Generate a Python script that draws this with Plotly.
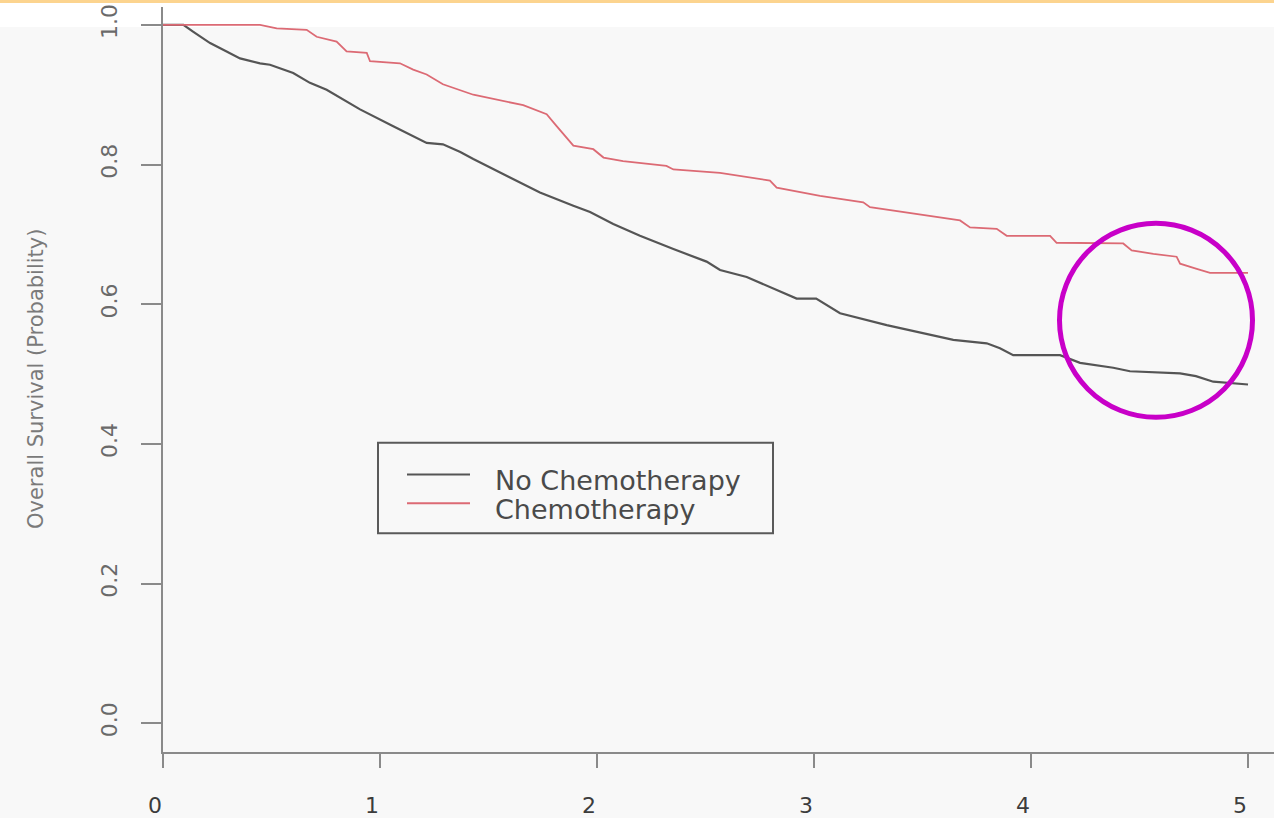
import plotly.graph_objects as go

# ---- data (years, survival probability) ----
t_nochemo = [0, 0.094, 0.14, 0.217, 0.293, 0.355, 0.447, 0.493, 0.60, 0.677, 0.754, 0.908, 1.061, 1.138,
             1.215, 1.29, 1.37, 1.43, 1.584, 1.737, 1.891, 1.968, 2.075, 2.198, 2.352, 2.505, 2.567, 2.69,
             2.92, 3.01, 3.12, 3.335, 3.642, 3.796, 3.857, 3.918, 4.134, 4.226, 4.379, 4.456, 4.687, 4.76,
             4.84, 5.0]
s_nochemo = [1.0, 1.0, 0.990, 0.974, 0.962, 0.952, 0.945, 0.943, 0.931, 0.917, 0.907, 0.879, 0.855, 0.843,
             0.831, 0.829, 0.818, 0.808, 0.784, 0.760, 0.741, 0.732, 0.715, 0.698, 0.679, 0.661, 0.649, 0.639,
             0.608, 0.608, 0.587, 0.570, 0.549, 0.544, 0.537, 0.527, 0.527, 0.516, 0.509, 0.504, 0.501, 0.497,
             0.489, 0.485]

t_chemo = [0, 0.447, 0.524, 0.662, 0.708, 0.80, 0.846, 0.939, 0.954, 1.092, 1.153, 1.215, 1.29, 1.369,
           1.43, 1.66, 1.768, 1.814, 1.891, 1.983, 2.03, 2.12, 2.32, 2.352, 2.567, 2.797, 2.828, 3.028,
           3.227, 3.258, 3.488, 3.673, 3.719, 3.842, 3.888, 4.088, 4.118, 4.425, 4.464, 4.564, 4.671, 4.687,
           4.76, 4.825, 5.0]
s_chemo = [1.0, 1.0, 0.995, 0.993, 0.983, 0.976, 0.962, 0.960, 0.948, 0.945, 0.936, 0.929, 0.915, 0.907,
           0.900, 0.885, 0.872, 0.855, 0.827, 0.822, 0.810, 0.805, 0.798, 0.793, 0.788, 0.777, 0.767, 0.755,
           0.746, 0.739, 0.729, 0.720, 0.710, 0.708, 0.698, 0.698, 0.688, 0.687, 0.677, 0.672, 0.668, 0.658,
           0.651, 0.645, 0.645]

series_names = ["No Chemotherapy", "Chemotherapy"]
x_ticks = [0, 1, 2, 3, 4, 5]
y_ticks = [0.0, 0.2, 0.4, 0.6, 0.8, 1.0]
y_tick_labels = ["0.0", "0.2", "0.4", "0.6", "0.8", "1.0"]
y_title = "Overall Survival (Probability)"

# ---- layout geometry (pixels) ----
W, H = 1274, 818
L, R, T, B = 163, 0, 7, 62
PW, PH = W - L - R, H - T - B
FONT = "DejaVu Sans"
BLACK = "#555555"
RED = "#dc6a74"


def px(xp):
    return (xp - L) / PW


def py(yp):
    return (H - B - yp) / PH


fig = go.Figure()
fig.add_trace(go.Scatter(x=t_nochemo, y=s_nochemo, mode="lines", line=dict(color=BLACK, width=2.2),
                         name=series_names[0], showlegend=False))
fig.add_trace(go.Scatter(x=t_chemo, y=s_chemo, mode="lines", line=dict(color=RED, width=1.8),
                         name=series_names[1], showlegend=False))

shapes = [
    # white top band and orange top rule
    dict(type="rect", xref="paper", yref="paper", x0=px(0), x1=px(W), y0=py(27), y1=py(3),
         fillcolor="white", line=dict(width=0), layer="below"),
    dict(type="rect", xref="paper", yref="paper", x0=px(0), x1=px(W), y0=py(3), y1=py(0),
         fillcolor="#fcd48f", line=dict(width=0), layer="below"),
    # y axis extension below x axis
    dict(type="line", xref="paper", yref="paper", x0=0, x1=0, y0=py(756), y1=py(770),
         line=dict(color="#8a8a8a", width=2)),
    # legend box
    dict(type="rect", xref="paper", yref="paper", x0=px(378), x1=px(773), y0=py(536), y1=py(445),
         line=dict(color="#5a5a5a", width=2), fillcolor="rgba(0,0,0,0)"),
    dict(type="line", xref="paper", yref="paper", x0=px(407), x1=px(470), y0=py(477), y1=py(477),
         line=dict(color=BLACK, width=2)),
    dict(type="line", xref="paper", yref="paper", x0=px(407), x1=px(470), y0=py(506), y1=py(506),
         line=dict(color=RED, width=2)),
    # magenta highlight circle
    dict(type="circle", xref="paper", yref="paper", x0=px(1059.5), x1=px(1252.5), y0=py(419.5), y1=py(224.5),
         line=dict(color="#c800c8", width=5)),
]

annotations = [
    dict(xref="paper", yref="paper", x=px(493), y=py(483), text=series_names[0], showarrow=False,
         xanchor="left", yanchor="middle", font=dict(family=FONT, size=27, color="#4a4a4a")),
    dict(xref="paper", yref="paper", x=px(493), y=py(512), text=series_names[1], showarrow=False,
         xanchor="left", yanchor="middle", font=dict(family=FONT, size=27, color="#4a4a4a")),
    dict(xref="paper", yref="paper", x=px(36), y=py(381), text=y_title, showarrow=False, textangle=-90,
         xanchor="center", yanchor="middle", font=dict(family=FONT, size=21, color="#7a7a7a")),
]

fig.update_layout(
    width=W, height=H, autosize=False,
    margin=dict(l=L, r=R, t=T, b=B, pad=0),
    paper_bgcolor="#f8f8f8", plot_bgcolor="#f8f8f8",
    showlegend=False,
    shapes=shapes, annotations=annotations,
    xaxis=dict(range=[0, PW / 217.0], tickmode="array", tickvals=x_ticks, ticktext=[str(v) for v in x_ticks],
               showgrid=False, zeroline=False, showline=True, linecolor="#8a8a8a", linewidth=2,
               ticks="outside", ticklen=14, tickwidth=2, tickcolor="#8a8a8a",
               ticklabelstandoff=19, ticklabelshift=-8,
               tickfont=dict(family=FONT, size=22, color="#3c3c3c")),
    yaxis=dict(range=[(727 - 756) / 702.0, (727 - 7) / 702.0], tickmode="array", tickvals=y_ticks,
               ticktext=y_tick_labels, tickangle=-90,
               showgrid=False, zeroline=False, showline=True, linecolor="#8a8a8a", linewidth=2,
               ticks="outside", ticklen=20, tickwidth=2, tickcolor="#8a8a8a",
               ticklabelstandoff=15,
               tickfont=dict(family=FONT, size=22, color="#6a6a6a")),
)

fig.write_html("out.html", config={"displayModeBar": False},
               post_script="document.body.style.margin='0';document.body.style.overflow='hidden';")
